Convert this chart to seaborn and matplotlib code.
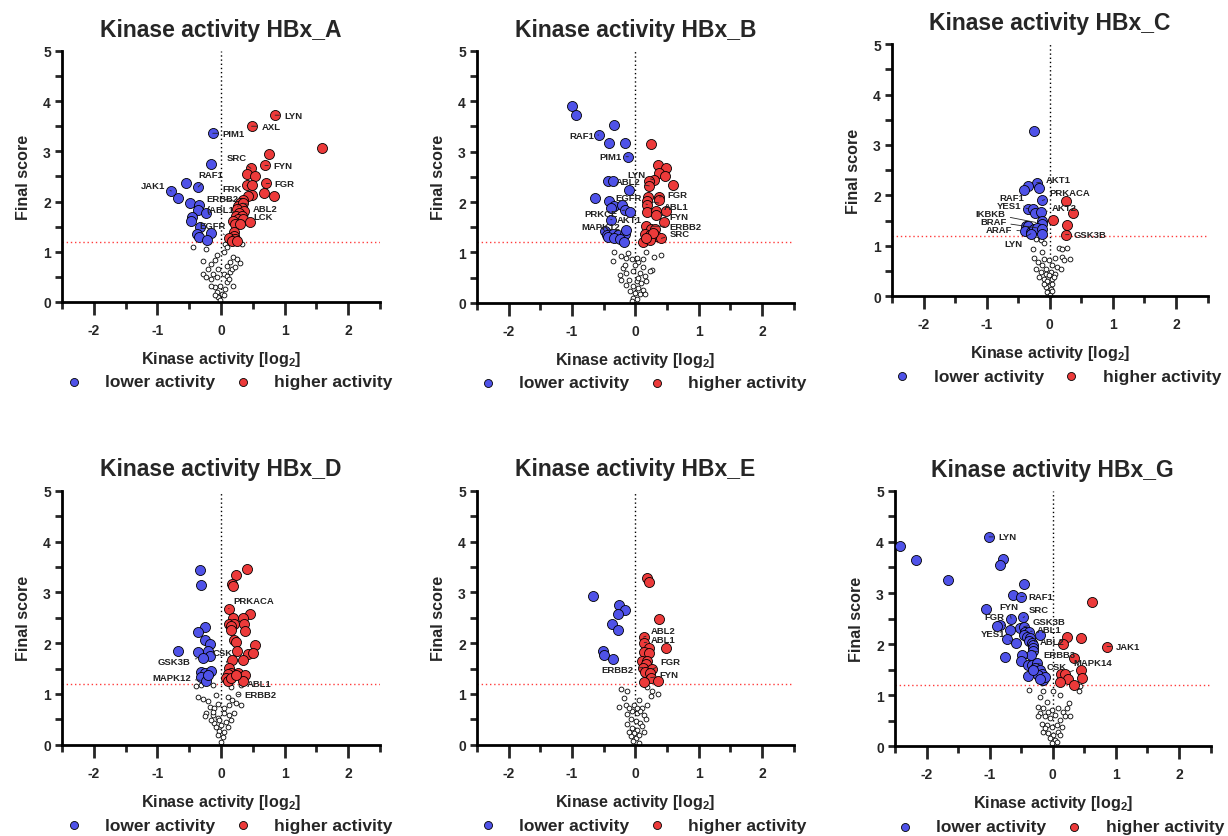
import numpy as np
import matplotlib
matplotlib.use('Agg')
import matplotlib.pyplot as plt
import seaborn as sns
from matplotlib.ticker import MultipleLocator

# ---- data: (kinase activity log2, final score) ----
A_lower_x = [-0.13, -0.15, -0.36, -0.55, -0.78, -0.67, -0.49, -0.34, -0.37, -0.24, -0.45, -0.47, -0.33, -0.38, -0.34, -0.16, -0.22]
A_lower_y = [3.36, 2.74, 2.29, 2.37, 2.21, 2.08, 1.98, 1.93, 1.84, 1.77, 1.70, 1.62, 1.50, 1.35, 1.30, 1.37, 1.24]
A_higher_x = [0.85, 0.48, 1.59, 0.75, 0.69, 0.47, 0.41, 0.54, 0.71, 0.41, 0.49, 0.68, 0.83, 0.49, 0.42, 0.34, 0.30, 0.27, 0.34,
              0.33, 0.25, 0.36, 0.29, 0.24, 0.33, 0.27, 0.19, 0.35, 0.46, 0.22, 0.30, 0.21, 0.21, 0.12, 0.22, 0.17, 0.25]
A_higher_y = [3.72, 3.50, 3.07, 2.95, 2.72, 2.66, 2.54, 2.50, 2.36, 2.32, 2.32, 2.18, 2.12, 2.13, 2.11, 2.04, 1.98, 1.91, 1.97,
              1.88, 1.85, 1.81, 1.77, 1.72, 1.72, 1.65, 1.62, 1.65, 1.60, 1.55, 1.55, 1.40, 1.32, 1.27, 1.25, 1.21, 1.21]
A_other_x = [-0.44, -0.23, 0.06, 0.09, 0.04, 0.33, -0.07, -0.09, -0.28, 0.19, 0.25, 0.30, 0.14, 0.09, -0.15, -0.20, -0.28, -0.12,
             -0.07, 0.04, 0.09, 0.14, 0.19, 0.09, -0.02, -0.09, -0.15, -0.07, 0.01, -0.04, 0.04, -0.09, -0.02, 0.06, 0.12, 0.17,
             0.22, -0.04, -0.15, -0.23]
A_other_y = [1.09, 1.05, 1.15, 1.09, 0.99, 1.15, 0.93, 0.84, 0.82, 0.89, 0.85, 0.77, 0.80, 0.72, 0.75, 0.66, 0.56, 0.56,
             0.49, 0.56, 0.51, 0.59, 0.32, 0.39, 0.32, 0.29, 0.32, 0.19, 0.16, 0.09, 0.13, 0.13, 0.03, 0.26, 0.46, 0.66,
             0.69, 0.66, 0.46, 0.49]
A_labels = [('LYN', 0.85, 3.72), ('AXL', 0.48, 3.50), ('PIM1', -0.13, 3.36), ('SRC', 0.47, 2.66), ('FYN', 0.69, 2.72),
            ('RAF1', -0.36, 2.29), ('JAK1', -0.78, 2.21), ('FRK', 0.41, 2.32), ('FGR', 0.71, 2.36), ('ERBB2', 0.30, 1.98),
            ('(ABL1', 0.27, 1.91), ('ABL2', 0.34, 1.97), ('LCK', 0.33, 1.72), ('EGFR', 0.12, 1.27)]

B_lower_x = [-1.00, -0.93, -0.34, -0.58, -0.42, -0.17, -0.11, -0.43, -0.36, -0.10, -0.63, -0.42, -0.33, -0.21, -0.38, -0.17,
             -0.09, -0.39, -0.48, -0.45, -0.35, -0.27, -0.17, -0.14, -0.43, -0.34, -0.24, -0.18]
B_lower_y = [3.91, 3.73, 3.53, 3.33, 3.18, 3.17, 2.90, 2.41, 2.41, 2.23, 2.09, 2.02, 1.93, 1.95, 1.88, 1.84,
             1.80, 1.65, 1.42, 1.34, 1.37, 1.34, 1.36, 1.44, 1.30, 1.29, 1.26, 1.21]
B_higher_x = [0.24, 0.35, 0.48, 0.37, 0.47, 0.29, 0.21, 0.22, 0.59, 0.20, 0.38, 0.37, 0.19, 0.19, 0.19, 0.33, 0.48, 0.32,
              0.45, 0.17, 0.25, 0.31, 0.15, 0.23, 0.33, 0.41, 0.12, 0.23, 0.28, 0.17]
B_higher_y = [3.16, 2.74, 2.67, 2.58, 2.52, 2.44, 2.41, 2.32, 2.33, 2.11, 2.10, 2.05, 2.02, 1.95, 1.80, 1.82, 1.83, 1.74,
              1.60, 1.52, 1.46, 1.46, 1.36, 1.34, 1.32, 1.28, 1.21, 1.24, 1.39, 1.29]
B_other_x = [-0.34, -0.35, -0.22, -0.14, -0.06, 0.04, 0.12, 0.12, 0.29, 0.40, 0.27, -0.19, -0.25, -0.14, -0.04, 0.07, 0.15,
             -0.22, -0.10, 0.02, 0.09, 0.17, -0.04, 0.04, 0.12, -0.09, -0.01, 0.07, -0.04, 0.02, -0.06, -0.17, -0.01, 0.23,
             -0.14, 0.15, 0.04, -0.12, 0.02, 0.17]
B_other_y = [1.00, 0.84, 0.93, 0.89, 0.86, 0.81, 0.86, 0.71, 0.91, 0.95, 0.66, 0.70, 0.56, 0.60, 0.63, 0.60, 0.53,
             0.46, 0.46, 0.43, 0.40, 0.43, 0.33, 0.30, 0.26, 0.23, 0.20, 0.17, 0.10, 0.07, 0.03, 0.76, 0.76, 0.63,
             0.36, 0.17, 0.50, 0.99, 0.89, 1.00]
B_labels = [('RAF1', -0.58, 3.33), ('PIM1', -0.11, 2.90), ('LYN', 0.29, 2.44), ('ABL2', 0.22, 2.32), ('EGFR', 0.19, 1.95),
            ('FGR', 0.38, 2.10), ('ABL1', 0.19, 2.02), ('PRKCE', -0.17, 1.84), ('FYN', 0.32, 1.74), ('AKT1', -0.39, 1.65),
            ('MAPK12', -0.48, 1.42), ('ERBB2', 0.17, 1.52), ('SRC', 0.41, 1.28)]

C_lower_x = [-0.25, -0.21, -0.17, -0.34, -0.41, -0.12, -0.34, -0.26, -0.24, -0.14, -0.12, -0.13, -0.38, -0.34, -0.39, -0.30,
             -0.25, -0.21, -0.12, -0.12, -0.30]
C_lower_y = [3.28, 2.25, 2.15, 2.18, 2.11, 1.90, 1.72, 1.72, 1.65, 1.66, 1.50, 1.44, 1.40, 1.40, 1.29, 1.28,
             1.34, 1.36, 1.34, 1.24, 1.24]
C_higher_x = [0.25, 0.37, 0.05, 0.27, 0.25]
C_higher_y = [1.89, 1.64, 1.52, 1.42, 1.22]
C_other_x = [-0.22, -0.14, -0.09, -0.26, -0.12, 0.15, 0.20, 0.28, 0.09, 0.20, 0.32, -0.25, -0.19, -0.09, -0.01, 0.04, 0.12,
             -0.22, -0.14, -0.06, 0.02, 0.09, -0.17, -0.09, -0.04, 0.04, -0.01, -0.06, 0.02, -0.04, 0.00, 0.04, -0.09, 0.07,
             0.17, 0.23, -0.12, -0.06, -0.01, 0.03]
C_other_y = [1.14, 1.11, 1.06, 0.94, 0.87, 0.95, 0.94, 0.95, 0.75, 0.77, 0.73, 0.75, 0.68, 0.74, 0.71, 0.61, 0.58,
             0.54, 0.48, 0.54, 0.48, 0.44, 0.38, 0.34, 0.31, 0.34, 0.21, 0.18, 0.15, 0.08, 0.03, 0.24, 0.24, 0.38,
             0.54, 0.71, 0.61, 0.44, 0.41, 0.11]
C_labels = [('AKT1', -0.21, 2.25), ('PRKACA', -0.12, 1.90), ('RAF1', -0.34, 1.72), ('YES1', -0.26, 1.72),
            ('AKT2', -0.14, 1.66), ('IKBKB', -0.13, 1.44), ('BRAF', -0.12, 1.34), ('ARAF', -0.39, 1.29),
            ('LYN', -0.30, 1.24), ('GSK3B', 0.25, 1.22)]

D_lower_x = [-0.33, -0.32, -0.26, -0.37, -0.26, -0.17, -0.67, -0.37, -0.21, -0.17, -0.29, -0.32, -0.26, -0.15, -0.32,
             -0.24, -0.20]
D_lower_y = [3.44, 3.15, 2.32, 2.22, 2.06, 1.99, 1.85, 1.82, 1.85, 1.75, 1.71, 1.44, 1.42, 1.46, 1.34,
             1.26, 1.38]
D_higher_x = [0.41, 0.23, 0.18, 0.19, 0.12, 0.45, 0.19, 0.35, 0.13, 0.21, 0.16, 0.36, 0.15, 0.38, 0.20, 0.24, 0.53, 0.42,
              0.51, 0.25, 0.18, 0.35, 0.13, 0.16, 0.11, 0.26, 0.37, 0.08, 0.11, 0.34, 0.16, 0.24]
D_higher_y = [3.46, 3.34, 3.17, 3.13, 2.68, 2.58, 2.49, 2.49, 2.38, 2.37, 2.34, 2.37, 2.26, 2.23, 2.07, 2.02, 1.97, 1.79,
              1.81, 1.84, 1.66, 1.66, 1.51, 1.42, 1.39, 1.42, 1.38, 1.31, 1.25, 1.25, 1.32, 1.38]
D_other_x = [-0.39, -0.32, -0.13, 0.16, 0.26, 0.32, -0.37, -0.29, -0.21, -0.08, 0.11, 0.18, 0.24, 0.32, -0.18, -0.11,
             -0.24, -0.13, -0.05, 0.05, 0.13, 0.21, -0.11, 0.00, 0.08, -0.03, -0.05, 0.03, 0.00, 0.05, -0.08, 0.11, -0.13,
             -0.26, 0.05, 0.13, -0.05, 0.16, -0.03, -0.16]
D_other_y = [1.15, 1.18, 1.18, 1.13, 0.99, 1.17, 0.95, 0.91, 0.86, 0.98, 0.95, 0.88, 0.83, 0.79, 0.75, 0.72,
             0.62, 0.58, 0.52, 0.62, 0.58, 0.62, 0.42, 0.38, 0.45, 0.28, 0.19, 0.15, 0.05, 0.25, 0.35, 0.35, 0.65,
             0.57, 0.72, 0.78, 0.81, 0.48, 0.48, 0.48]
D_labels = [('PRKACA', 0.12, 2.68), ('CSK', 0.13, 1.51), ('GSK3B', -0.29, 1.71), ('MAPK12', -0.24, 1.26),
            ('ABL1', 0.32, 1.17), ('ERBB2', 0.26, 0.99)]

E_lower_x = [-0.67, -0.26, -0.17, -0.28, -0.37, -0.28, -0.51, -0.49, -0.35]
E_lower_y = [2.93, 2.76, 2.65, 2.57, 2.38, 2.25, 1.85, 1.77, 1.68]
E_higher_x = [0.18, 0.22, 0.38, 0.13, 0.14, 0.49, 0.22, 0.13, 0.21, 0.11, 0.19, 0.16, 0.12, 0.27, 0.15, 0.23, 0.24, 0.13, 0.35]
E_higher_y = [3.28, 3.21, 2.48, 2.12, 2.01, 1.90, 1.90, 1.82, 1.81, 1.64, 1.64, 1.59, 1.52, 1.49, 1.44, 1.41, 1.32, 1.23, 1.25]
E_other_x = [-0.23, -0.13, 0.19, 0.27, 0.35, 0.24, -0.18, -0.15, -0.26, -0.02, 0.06, 0.11, -0.05, 0.03, -0.13, 0.14,
             -0.07, 0.01, 0.08, -0.13, -0.05, 0.03, 0.11, -0.02, -0.07, 0.01, -0.03, 0.06, -0.10, 0.16, 0.08, 0.19, 0.03,
             -0.10, 0.14, 0.06]
E_other_y = [1.09, 1.06, 1.13, 1.06, 0.99, 0.96, 0.93, 0.79, 0.74, 0.79, 0.89, 0.73, 0.66, 0.63, 0.60, 0.58,
             0.50, 0.46, 0.43, 0.40, 0.33, 0.30, 0.36, 0.23, 0.17, 0.13, 0.07, 0.20, 0.26, 0.50, 0.66, 0.79, 0.73,
             0.73, 0.26, 0.03]
E_labels = [('ABL2', 0.13, 2.12), ('ABL1', 0.14, 2.01), ('FGR', 0.27, 1.49), ('ERBB2', 0.12, 1.52), ('FYN', 0.24, 1.32)]

G_lower_x = [-2.42, -2.16, -1.66, -1.01, -0.79, -0.84, -0.46, -0.63, -0.51, -1.05, -0.66, -0.47, -0.84, -0.88, -0.68,
             -0.52, -0.46, -0.44, -0.38, -0.46, -0.41, -0.36, -0.38, -0.33, -0.31, -0.32, -0.31, -0.35, -0.20, -0.73,
             -0.58, -0.75, -0.49, -0.50, -0.40, -0.33, -0.25, -0.28, -0.20, -0.17, -0.23, -0.15, -0.12, -0.21, -0.40,
             -0.31]
G_lower_y = [3.92, 3.65, 3.25, 4.10, 3.67, 3.55, 3.17, 2.97, 2.93, 2.69, 2.50, 2.52, 2.37, 2.35, 2.27,
             2.32, 2.34, 2.24, 2.24, 2.18, 2.14, 2.11, 2.05, 2.01, 1.98, 1.92, 1.86, 1.79, 2.18, 2.09,
             2.01, 1.75, 1.78, 1.67, 1.59, 1.59, 1.62, 1.52, 1.49, 1.42, 1.39, 1.29, 1.35, 1.31, 1.37,
             1.49]
G_higher_x = [0.62, 0.86, 0.23, 0.17, 0.45, 0.33, 0.45, 0.13, 0.19, 0.24, 0.12, 0.34, 0.47]
G_higher_y = [2.82, 1.95, 2.13, 2.00, 2.11, 1.72, 1.50, 1.41, 1.41, 1.31, 1.25, 1.20, 1.33]
G_other_x = [-0.38, -0.17, -0.16, -0.20, 0.01, 0.12, 0.41, 0.43, 0.26, -0.24, -0.16, -0.09, -0.02, 0.09, 0.17, -0.20,
             -0.12, -0.04, 0.04, 0.12, 0.19, 0.27, -0.17, -0.09, -0.02, 0.06, 0.14, -0.15, -0.07, 0.01, 0.09, -0.04, 0.04,
             -0.02, 0.06, -0.12, 0.12, -0.07, 0.22, -0.23]
G_other_y = [1.10, 1.23, 1.07, 0.97, 1.07, 1.00, 1.08, 1.18, 0.84, 0.77, 0.75, 0.86, 0.71, 0.74, 0.67, 0.64,
             0.59, 0.54, 0.61, 0.51, 0.58, 0.58, 0.44, 0.41, 0.38, 0.41, 0.38, 0.28, 0.25, 0.22, 0.28, 0.15, 0.12,
             0.05, 0.08, 0.35, 0.22, 0.67, 0.74, 0.58]
G_labels = [('LYN', -1.01, 4.10), ('RAF1', -0.51, 2.93), ('FYN', -0.66, 2.50), ('SRC', -0.47, 2.52), ('FGR', -0.68, 2.27),
            ('GSK3B', -0.46, 2.34), ('ABL1', -0.44, 2.24), ('YES1', -0.58, 2.01), ('ABL2', -0.38, 2.05),
            ('ERBB3', -0.31, 1.86), ('CSK', -0.25, 1.62), ('MAPK14', 0.19, 1.41), ('JAK1', 0.86, 1.95)]

panel_names = ['HBx_A', 'HBx_B', 'HBx_C', 'HBx_D', 'HBx_E', 'HBx_G']
threshold = 1.2

# ---- layout / style ----
BLUE = '#4f52e8'
RED = '#ec3a3a'
axes_rects = [
    [0.0505, 0.638, 0.259, 0.300],
    [0.3884, 0.637, 0.258, 0.301],
    [0.7264, 0.645, 0.257, 0.301],
    [0.0505, 0.109, 0.259, 0.3035],
    [0.3884, 0.109, 0.258, 0.3035],
    [0.7288, 0.1075, 0.257, 0.3047],
]
# label text offsets in pixels (dx, dy, ha)
label_offsets = [
    {'LYN': (9, 0, 'left'), 'AXL': (10, 0, 'left'), 'PIM1': (10, 0, 'left'), 'SRC': (-4, 11, 'right'),
     'FYN': (8, 0, 'left'), 'RAF1': (0, 12, 'left'), 'JAK1': (-6, 6, 'right'), 'FRK': (-5, -3, 'right'),
     'FGR': (8, 0, 'left'), 'ERBB2': (-2, 4, 'right'), '(ABL1': (-4, -3, 'right'), 'ABL2': (10, -5, 'left'),
     'LCK': (11, -1, 'left'), 'EGFR': (-3, 13, 'right')},
    {'RAF1': (-4, 0, 'right'), 'PIM1': (-7, 0, 'right'), 'LYN': (-8, 5, 'right'), 'ABL2': (-9, 4, 'right'),
     'EGFR': (-6, 7, 'right'), 'FGR': (8, 3, 'left'), 'ABL1': (16, -5, 'left'), 'PRKCE': (-7, -3, 'right'),
     'FYN': (14, -1, 'left'), 'AKT1': (6, 0, 'left'), 'MAPK12': (15, 5, 'right'), 'ERBB2': (23, 0, 'left'),
     'SRC': (8, 5, 'left')},
    {'AKT1': (9, 3, 'left'), 'PRKACA': (7, 8, 'left'), 'RAF1': (-4, 12, 'right'), 'YES1': (-12, 4, 'right'),
     'AKT2': (11, 5, 'left'), 'IKBKB': (-36, 10, 'right'), 'BRAF': (-36, 7, 'right'), 'ARAF': (-13, 2, 'right'),
     'LYN': (-8, -10, 'right'), 'GSK3B': (8, 0, 'left')},
    {'PRKACA': (5, 8, 'left'), 'CSK': (3, 16, 'right'), 'GSK3B': (-12, -4, 'right'), 'MAPK12': (-15, 3, 'right'),
     'ABL1': (5, 2, 'left'), 'ERBB2': (7, 0, 'left')},
    {'ABL2': (7, 7, 'left'), 'ABL1': (7, 3, 'left'), 'FGR': (8, 8, 'left'), 'ERBB2': (-9, -2, 'right'),
     'FYN': (9, 3, 'left')},
    {'LYN': (9, 0, 'left'), 'RAF1': (8, 0, 'left'), 'FYN': (7, 12, 'right'), 'SRC': (6, 8, 'left'),
     'FGR': (-5, 14, 'right'), 'GSK3B': (9, 5, 'left'), 'ABL1': (12, 2, 'left'), 'YES1': (-11, 10, 'right'),
     'ABL2': (11, 0, 'left'), 'ERBB3': (10, -3, 'left'), 'CSK': (10, -3, 'left'), 'MAPK14': (9, 12, 'left'),
     'JAK1': (9, 0, 'left')},
]

panels = [
    (A_lower_x, A_lower_y, A_higher_x, A_higher_y, A_other_x, A_other_y, A_labels),
    (B_lower_x, B_lower_y, B_higher_x, B_higher_y, B_other_x, B_other_y, B_labels),
    (C_lower_x, C_lower_y, C_higher_x, C_higher_y, C_other_x, C_other_y, C_labels),
    (D_lower_x, D_lower_y, D_higher_x, D_higher_y, D_other_x, D_other_y, D_labels),
    (E_lower_x, E_lower_y, E_higher_x, E_higher_y, E_other_x, E_other_y, E_labels),
    (G_lower_x, G_lower_y, G_higher_x, G_higher_y, G_other_x, G_other_y, G_labels),
]

sns.set_theme(style='white')
plt.rcParams['font.family'] = ['Liberation Sans', 'DejaVu Sans']
plt.rcParams['font.weight'] = 'bold'
plt.rcParams['mathtext.fontset'] = 'custom'
plt.rcParams['mathtext.bf'] = 'Liberation Sans:bold'
plt.rcParams['mathtext.rm'] = 'Liberation Sans:bold'

fig = plt.figure(figsize=(12.28, 8.37), dpi=100)

for i, (lx, ly, hx, hy, ox, oy, labels) in enumerate(panels):
    ax = fig.add_axes(axes_rects[i])
    ax.axvline(0, color='black', linestyle=(0, (1, 2)), lw=1.0, zorder=1)
    ax.axhline(threshold, color='#ff3b3b', linestyle=(0, (1, 2)), lw=1.0, zorder=1)

    sns.scatterplot(x=ox, y=oy, ax=ax, s=12, facecolor='white', edgecolor='black', linewidth=0.6,
                    zorder=2, clip_on=False, legend=False, label='_nolegend_')
    sns.scatterplot(x=lx, y=ly, ax=ax, s=52, color=BLUE, edgecolor='black', linewidth=0.6,
                    zorder=3, clip_on=False, label='lower activity')
    sns.scatterplot(x=hx, y=hy, ax=ax, s=52, color=RED, edgecolor='black', linewidth=0.6,
                    zorder=3, clip_on=False, label='higher activity')

    for name, x, y in labels:
        dx, dy, ha = label_offsets[i][name]
        ax.annotate(name, xy=(x, y), xytext=(dx, dy), textcoords='offset pixels', ha=ha, va='center',
                    fontsize=6.8, fontweight='bold', color='#222222', zorder=5,
                    arrowprops=dict(arrowstyle='-', lw=0.6, color='#222222', shrinkA=1, shrinkB=4))

    ax.set_xlim(-2.5, 2.5)
    ax.set_ylim(0, 5)
    ax.xaxis.set_major_locator(MultipleLocator(1))
    ax.xaxis.set_minor_locator(MultipleLocator(0.5))
    ax.yaxis.set_major_locator(MultipleLocator(1))
    ax.yaxis.set_minor_locator(MultipleLocator(0.5))
    ax.set_xticks([-2, -1, 0, 1, 2])
    ax.set_xticklabels(['-2', '-1', '0', '1', '2'])
    ax.tick_params(axis='x', which='major', length=9, width=2, direction='out', labelsize=10, pad=6, bottom=True)
    ax.tick_params(axis='x', which='minor', length=5, width=2, direction='out', bottom=True)
    ax.tick_params(axis='y', which='both', length=5, width=2, direction='out', labelsize=10, pad=3, left=True)
    for lab in ax.get_xticklabels() + ax.get_yticklabels():
        lab.set_fontweight('bold')
    for side in ['top', 'right']:
        ax.spines[side].set_visible(False)
    for side in ['left', 'bottom']:
        ax.spines[side].set_linewidth(2)
        ax.spines[side].set_color('black')

    ax.set_title('Kinase activity ' + panel_names[i], fontsize=16.5, fontweight='bold', pad=11)
    ax.set_xlabel(r'Kinase activity [log$_{\mathbf{2}}$]', fontsize=11.6, fontweight='bold', labelpad=9)
    ax.set_ylabel('Final score', fontsize=11.6, fontweight='bold', labelpad=9)

    ax.legend(loc='upper center', bbox_to_anchor=(0.51, -0.225), ncol=2, frameon=False,
              markerscale=0.8, handletextpad=0.8, columnspacing=0.6,
              prop={'weight': 'bold', 'size': 12.5})

fig.savefig('out.png', dpi=100)
